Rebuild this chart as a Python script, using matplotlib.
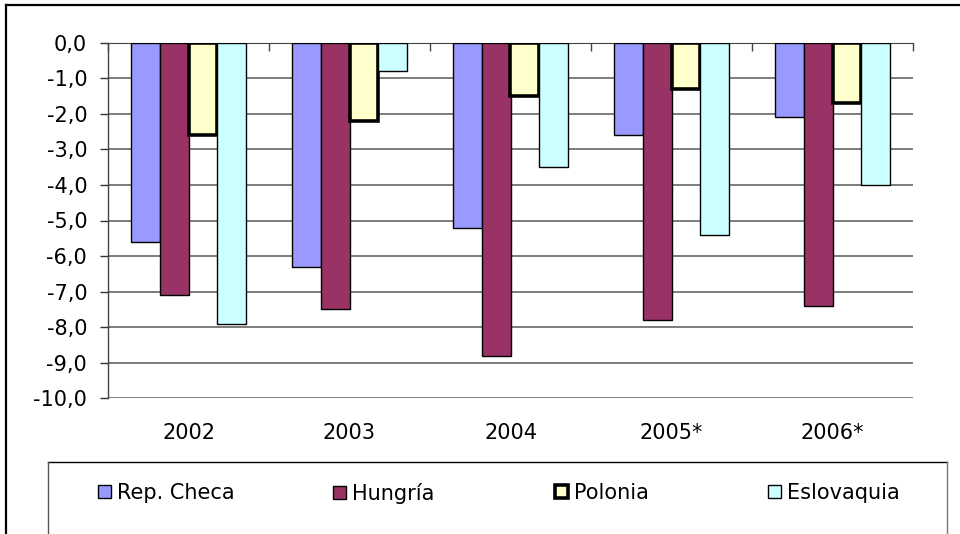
import numpy as np
import matplotlib
matplotlib.use("Agg")
import matplotlib.pyplot as plt
from matplotlib.patches import Patch
from matplotlib.lines import Line2D
from matplotlib.ticker import FixedLocator, FuncFormatter

plt.rcParams['font.family'] = ['DejaVu Sans']

years = ["2002", "2003", "2004", "2005*", "2006*"]
countries = ["Rep. Checa", "Hungría", "Polonia", "Eslovaquia"]
rep_checa = [-5.6, -6.3, -5.2, -2.6, -2.1]
hungria = [-7.1, -7.5, -8.8, -7.8, -7.4]
polonia = [-2.6, -2.2, -1.5, -1.3, -1.7]
eslovaquia = [-7.9, -0.8, -3.5, -5.4, -4.0]

series = [rep_checa, hungria, polonia, eslovaquia]
colors = ["#9999FF", "#993366", "#FFFFCC", "#CCFFFF"]
edge_w = [1.0, 1.0, 2.6, 1.0]

W, H = 960, 534
FS = 15
fig = plt.figure(figsize=(W / 100, H / 100), dpi=100)

def fx(px):
    return px / W

def fy(py):
    return 1 - py / H

ax = fig.add_axes([fx(108), fy(398.3), fx(913) - fx(108), fy(42.7) - fy(398.3)])

x = np.arange(len(years))
bw = 0.18
for i, (vals, c, lw) in enumerate(zip(series, colors, edge_w)):
    ax.bar(x + (i - 1.5) * bw, vals, width=bw, color=c, edgecolor="black",
           linewidth=lw, zorder=3, label=countries[i])

ax.set_xlim(-0.5, len(years) - 0.5)
ax.set_ylim(-10, 0)
ax.set_yticks(np.arange(-10, 0.5, 1))
ax.yaxis.set_major_formatter(FuncFormatter(lambda v, p: f"{v:.1f}".replace(".", ",")))
ax.grid(axis="y", color="#585858", linewidth=1.1, zorder=0)
ax.set_axisbelow(True)

ax.set_xticks(x)
ax.set_xticklabels(years)
ax.tick_params(axis="x", which="major", length=0, pad=18, labelsize=FS)
ax.tick_params(axis="y", length=6, width=1, color="#333333", labelsize=FS, pad=9)

# category separators along the zero line
ax.xaxis.set_minor_locator(FixedLocator(np.arange(-0.5, len(years), 1)))
ax.tick_params(axis="x", which="minor", top=True, bottom=False, direction="in",
               length=6, width=1, color="#444444")

for s in ["right", "bottom"]:
    ax.spines[s].set_visible(False)
ax.spines["top"].set_color("#444444")
ax.spines["left"].set_color("#444444")
ax.spines["left"].set_linewidth(1.0)

# outer chart frame
fig.add_artist(Line2D([fx(6), 1], [fy(4.5), fy(4.5)], color="black", lw=1.6))
fig.add_artist(Line2D([fx(6), fx(6)], [fy(4.5), 0], color="black", lw=1.6))

# legend frame
fig.add_artist(Line2D([fx(48), fx(947)], [fy(462), fy(462)], color="black", lw=1.0))
fig.add_artist(Line2D([fx(48), fx(48)], [fy(462), 0], color="#555555", lw=1.0))
fig.add_artist(Line2D([fx(947), fx(947)], [fy(462), 0], color="#777777", lw=1.0))

# legend entries, one per country
entry_x = [98, 333, 555, 768]
for name, c, lw, px in zip(countries, colors, edge_w, entry_x):
    h = Patch(facecolor=c, edgecolor="black", linewidth=lw)
    fig.legend([h], [name], loc="center left", frameon=False,
               bbox_to_anchor=(fx(px), fy(493)), fontsize=FS,
               borderpad=0, borderaxespad=0,
               handlelength=0.6, handleheight=0.6, handletextpad=0.3)

fig.savefig("out.png", dpi=100)
